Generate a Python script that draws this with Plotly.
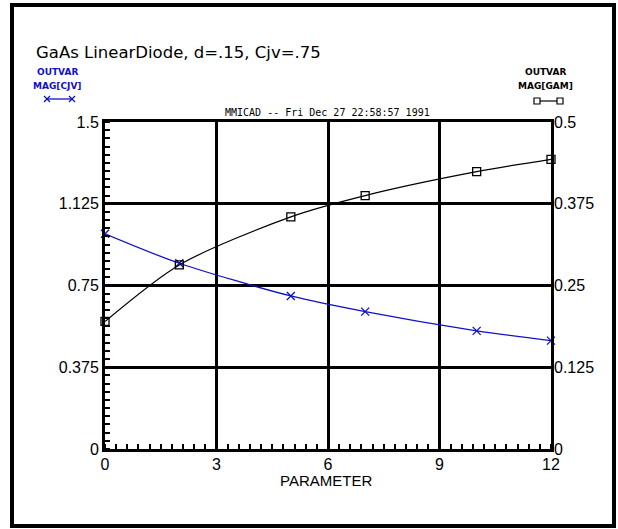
import plotly.graph_objects as go

# ---- data ----
param = [0, 2, 5, 7, 10, 12]
mag_cjv = [0.987, 0.852, 0.702, 0.630, 0.542, 0.497]
mag_gam = [0.195, 0.2815, 0.355, 0.3875, 0.424, 0.443]

x_ticks = [0, 3, 6, 9, 12]
y_ticks = [0, 0.375, 0.75, 1.125, 1.5]
y_tick_text = ["0", "0.375", "0.75", "1.125", "1.5"]
y2_ticks = [0, 0.125, 0.25, 0.375, 0.5]
y2_tick_text = ["0", "0.125", "0.25", "0.375", "0.5"]

title_text = "GaAs LinearDiode, d=.15, Cjv=.75"
stamp_text = "MMICAD -- Fri Dec 27 22:58:57 1991"
x_title = "PARAMETER"

BLUE = "#1010c8"

W, H = 618, 529
L, R, T, B = 105, 67, 122, 80
PW = W - L - R
PH = H - T - B


def px(X):
    return (X - L) / PW


def py(Y):
    return (H - B - Y) / PH


fig = go.Figure()
fig.add_trace(go.Scatter(
    x=param, y=mag_cjv, mode="lines+markers",
    line=dict(color=BLUE, width=1.3, shape="spline", smoothing=0.8),
    marker=dict(symbol="x-thin-open", size=8, color=BLUE, line=dict(color=BLUE, width=1.3)),
    yaxis="y", showlegend=False, cliponaxis=False))
fig.add_trace(go.Scatter(
    x=param, y=mag_gam, mode="lines+markers",
    line=dict(color="black", width=1.2, shape="spline", smoothing=0.8),
    marker=dict(symbol="square-open", size=8, color="black", line=dict(color="black", width=1.3)),
    yaxis="y2", showlegend=False, cliponaxis=False))

tickfont = dict(family="Liberation Sans", size=16, color="black")

fig.update_layout(
    width=W, height=H,
    margin=dict(l=L, r=R, t=T, b=B),
    paper_bgcolor="white", plot_bgcolor="white",
    xaxis=dict(range=[0, 12], tickvals=x_ticks, ticks="", showgrid=True,
               gridcolor="black", gridwidth=2.5, showline=True, linecolor="black",
               linewidth=3, mirror=True, zeroline=False, tickfont=tickfont,
               ticklabelstandoff=-1,
               minor=dict(ticks="inside", dtick=0.3, ticklen=5, tickwidth=2,
                          tickcolor="black", showgrid=False)),
    yaxis=dict(range=[0, 1.5], tickvals=y_ticks, ticktext=y_tick_text, ticks="",
               showgrid=True, gridcolor="black", gridwidth=2.5, showline=True,
               linecolor="black", linewidth=3, mirror=True, zeroline=False,
               tickfont=tickfont,
               minor=dict(ticks="inside", dtick=0.0375, ticklen=5, tickwidth=2,
                          tickcolor="black", showgrid=False)),
    yaxis2=dict(range=[0, 0.5], tickvals=y2_ticks, ticktext=y2_tick_text, ticks="",
                overlaying="y", side="right", showgrid=False, showline=False,
                zeroline=False, tickfont=tickfont, ticklabelstandoff=2),
)

# outer frame
fig.add_shape(type="rect", xref="paper", yref="paper",
              x0=px(12), x1=px(614), y0=py(526), y1=py(5),
              line=dict(color="black", width=4), fillcolor="rgba(0,0,0,0)", layer="below")

# title
fig.add_annotation(text=title_text, xref="paper", yref="paper", x=px(34), y=py(53),
                   xanchor="left", yanchor="middle", showarrow=False,
                   font=dict(family="DejaVu Sans", size=16.5, color="black"))
# stamp
fig.add_annotation(text=stamp_text, xref="paper", yref="paper", x=px(327), y=py(112),
                   xanchor="center", yanchor="middle", showarrow=False,
                   font=dict(family="DejaVu Sans Mono", size=10, color="black"))
# x axis title
fig.add_annotation(text=x_title, xref="paper", yref="paper", x=px(326), y=py(480),
                   xanchor="center", yanchor="middle", showarrow=False,
                   font=dict(family="Liberation Sans", size=15, color="black"))

small = dict(family="DejaVu Sans", size=9)
# left legend
for txt, yy in (("<b>OUTVAR</b>", 72), ("<b>MAG[CJV]</b>", 86)):
    fig.add_annotation(text=txt, xref="paper", yref="paper", x=px(57), y=py(yy),
                       xanchor="center", yanchor="middle", showarrow=False,
                       font=dict(color=BLUE, **small))
for txt, yy in (("<b>OUTVAR</b>", 72), ("<b>MAG[GAM]</b>", 86)):
    fig.add_annotation(text=txt, xref="paper", yref="paper", x=px(545), y=py(yy),
                       xanchor="center", yanchor="middle", showarrow=False,
                       font=dict(color="black", **small))

# legend symbols
fig.add_shape(type="line", xref="paper", yref="paper", x0=px(47), x1=px(72),
              y0=py(99), y1=py(99), line=dict(color=BLUE, width=1.3))
for cx in (47, 72):
    fig.add_shape(type="line", xref="paper", yref="paper", x0=px(cx - 3), x1=px(cx + 3),
                  y0=py(96), y1=py(102), line=dict(color=BLUE, width=1.3))
    fig.add_shape(type="line", xref="paper", yref="paper", x0=px(cx - 3), x1=px(cx + 3),
                  y0=py(102), y1=py(96), line=dict(color=BLUE, width=1.3))

fig.add_shape(type="line", xref="paper", yref="paper", x0=px(537), x1=px(560),
              y0=py(101), y1=py(101), line=dict(color="black", width=1.2))
for cx in (537, 560):
    fig.add_shape(type="rect", xref="paper", yref="paper", x0=px(cx - 3), x1=px(cx + 3),
                  y0=py(104), y1=py(98), line=dict(color="black", width=1.2),
                  fillcolor="white")

fig.write_html("out.html", config={"displayModeBar": False},
               post_script="document.body.style.margin='0';document.body.style.overflow='hidden';")
